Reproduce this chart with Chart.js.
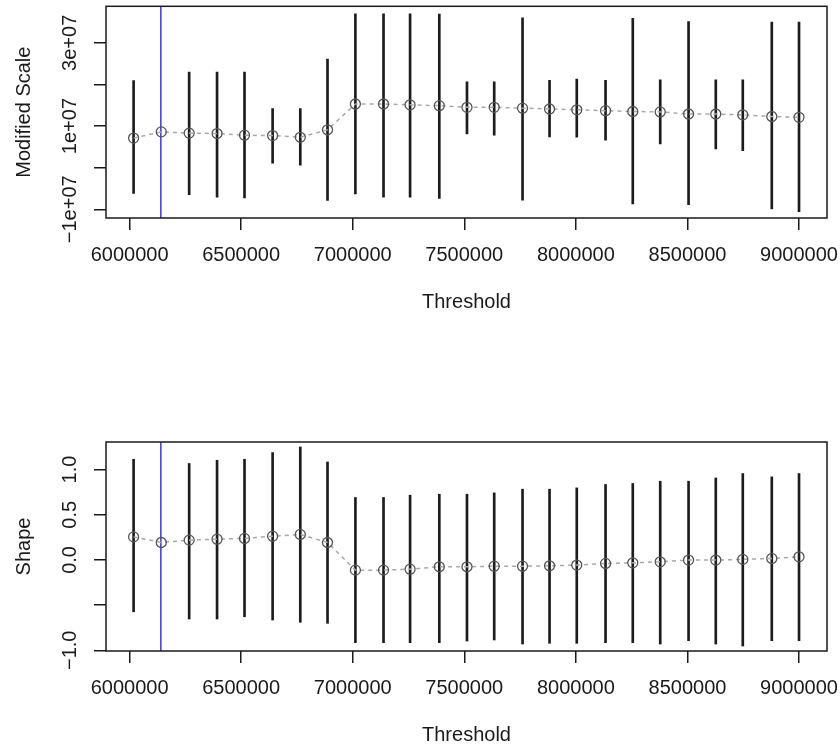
<!DOCTYPE html>
<html>
<head>
<meta charset="utf-8">
<script src="https://cdn.jsdelivr.net/npm/chart.js@4"></script>
<style>
  body { margin: 0; background: #fff; }
  canvas { position: absolute; left: 0; }
  #top { top: 0; }
  #bottom { top: 330px; }
</style>
</head>
<body>
<canvas id="top" width="840" height="330"></canvas>
<canvas id="bottom" width="840" height="421"></canvas>
<script>
// thresholds tried (x axis)
const thresholds = [6018000, 6142000, 6267000, 6392000, 6515000, 6641000, 6765000, 6887000,
  7012000, 7138000, 7257000, 7388000, 7512000, 7634000, 7761000, 7882000, 8004000, 8133000,
  8255000, 8378000, 8505000, 8627000, 8748000, 8878000, 9000000];
const selectedThreshold = 6140000; // blue line
const xTicks = [6000000, 6500000, 7000000, 7500000, 8000000, 8500000, 9000000];
const xRange = [5894300, 9125400];

// modified scale: estimate and interval
const scaleEst = [7.1e6, 8.6e6, 8.3e6, 8.2e6, 7.8e6, 7.7e6, 7.3e6, 9.1e6, 15.3e6, 15.3e6, 15.1e6,
  14.9e6, 14.5e6, 14.5e6, 14.3e6, 14.1e6, 13.9e6, 13.7e6, 13.5e6, 13.4e6, 12.9e6, 12.9e6, 12.7e6,
  12.3e6, 12.1e6];
const scaleLow = [-6.2e6, null, -6.5e6, -7.1e6, -7.3e6, 1.1e6, 0.6e6, -7.9e6, -6.3e6, -7.1e6, -7.1e6,
  -7.4e6, 8.1e6, 7.8e6, -7.8e6, 7.4e6, 7.3e6, 6.6e6, -8.7e6, 5.7e6, -8.9e6, 4.5e6, 4.1e6,
  -9.9e6, -10.6e6];
const scaleHigh = [20.9e6, null, 23.0e6, 23.0e6, 23.0e6, 14.2e6, 14.2e6, 26.1e6, 37.0e6, 37.0e6, 37.0e6,
  36.9e6, 20.6e6, 20.6e6, 36.0e6, 21.0e6, 21.3e6, 21.0e6, 35.9e6, 21.1e6, 35.1e6, 21.1e6, 21.1e6,
  35.0e6, 35.0e6];
const scaleTicks = [-1e7, 0, 1e7, 2e7, 3e7];
const scaleTickLabels = ['\u22121e+07', '', '1e+07', '', '3e+07'];
const scaleRange = [-1.21e7, 3.878e7];

// shape: estimate and interval
const shapeEst = [0.255, 0.193, 0.219, 0.23, 0.238, 0.263, 0.282, 0.193, -0.113, -0.113, -0.102,
  -0.076, -0.076, -0.069, -0.069, -0.065, -0.057, -0.039, -0.032, -0.021, -0.002, -0.002, 0.006,
  0.017, 0.034];
const shapeLow = [-0.574, null, -0.654, -0.654, -0.629, -0.665, -0.69, -0.702, -0.916, -0.916, -0.916,
  -0.916, -0.898, -0.886, -0.931, -0.923, -0.923, -0.916, -0.916, -0.931, -0.894, -0.931, -0.953,
  -0.894, -0.894];
const shapeHigh = [1.114, null, 1.067, 1.103, 1.114, 1.188, 1.25, 1.084, 0.691, 0.691, 0.716,
  0.727, 0.727, 0.742, 0.783, 0.783, 0.797, 0.835, 0.846, 0.871, 0.871, 0.907, 0.956,
  0.919, 0.956];
const shapeTicks = [-1, -0.5, 0, 0.5, 1];
const shapeTickLabels = ['\u22121.0', '', '0.0', '0.5', '1.0'];
const shapeRange = [-1.008, 1.305];

const FONT = '"Liberation Sans", Arial, Helvetica, sans-serif';
const INK = '#1a1a1a';
Chart.defaults.font.family = FONT;
Chart.defaults.font.size = 20;
Chart.defaults.color = INK;

// box round the plot region, like R's box()
const boxPlugin = {
  id: 'box',
  afterDatasetsDraw(chart) {
    const a = chart.chartArea, ctx = chart.ctx;
    ctx.save();
    ctx.strokeStyle = INK;
    ctx.lineWidth = 1.5;
    ctx.strokeRect(a.left, a.top, a.right - a.left, a.bottom - a.top);
    ctx.restore();
  }
};

// y tick labels turned 90 degrees, centred on the tick
const yLabelPlugin = {
  id: 'yLabels',
  afterDraw(chart, args, opts) {
    const ctx = chart.ctx, y = chart.scales.y;
    ctx.save();
    ctx.font = '20px ' + FONT;
    ctx.fillStyle = INK;
    ctx.textAlign = 'center';
    ctx.textBaseline = 'middle';
    opts.values.forEach((v, i) => {
      if (!opts.labels[i]) return;
      ctx.save();
      ctx.translate(opts.x, y.getPixelForValue(v));
      ctx.rotate(-Math.PI / 2);
      ctx.fillText(opts.labels[i], 0, 0);
      ctx.restore();
    });
    ctx.restore();
  }
};

function makePanel(id, est, low, high, yRange, yTicks, yLabels, yTitle, pad) {
  const bars = [];
  thresholds.forEach((t, i) => {
    if (low[i] !== null) bars.push({ x: t, y: [low[i], high[i]] });
  });
  const gridOpts = {
    drawOnChartArea: false, drawTicks: true, tickLength: 12, offset: false,
    color: INK, lineWidth: 1.5
  };
  return new Chart(document.getElementById(id), {
    type: 'line',
    data: {
      datasets: [
        {
          data: thresholds.map((t, i) => ({ x: t, y: est[i] })),
          borderColor: '#a8a8a8',
          borderWidth: 1.5,
          borderDash: [4, 4],
          pointRadius: 5,
          pointBorderColor: '#555',
          pointBorderWidth: 1.3,
          pointBackgroundColor: 'rgba(0,0,0,0)',
          fill: false
        },
        {
          data: [{ x: selectedThreshold, y: yRange[0] }, { x: selectedThreshold, y: yRange[1] }],
          borderColor: '#4a46d8',
          borderWidth: 1.6,
          pointRadius: 0
        },
        {
          type: 'bar',
          data: bars,
          backgroundColor: '#1c1c1c',
          barThickness: 2
        }
      ]
    },
    options: {
      responsive: false,
      animation: false,
      devicePixelRatio: 1,
      layout: { padding: pad },
      plugins: {
        legend: { display: false },
        tooltip: { enabled: false },
        yLabels: { values: yTicks, labels: yLabels, x: 70 }
      },
      scales: {
        x: {
          type: 'linear',
          min: xRange[0],
          max: xRange[1],
          offset: false,
          afterBuildTicks: s => { s.ticks = xTicks.map(v => ({ value: v })); },
          afterFit: s => { s.height = 96; s.paddingLeft = 0; s.paddingRight = 0; },
          ticks: { padding: 13, maxRotation: 0, autoSkip: false, color: INK, callback: v => String(v) },
          grid: gridOpts,
          border: { display: false },
          title: { display: true, text: 'Threshold', color: INK, font: { size: 20 }, padding: { top: 0, bottom: 0 } }
        },
        y: {
          type: 'linear',
          min: yRange[0],
          max: yRange[1],
          afterBuildTicks: s => { s.ticks = yTicks.map(v => ({ value: v })); },
          afterFit: s => { s.width = 106; s.paddingTop = 0; s.paddingBottom = 0; },
          ticks: { display: false },
          grid: gridOpts,
          border: { display: false },
          title: { display: true, text: yTitle, color: INK, font: { size: 20 }, padding: { top: 12, bottom: 0 } }
        }
      }
    },
    plugins: [boxPlugin, yLabelPlugin]
  });
}

makePanel('top', scaleEst, scaleLow, scaleHigh, scaleRange, scaleTicks, scaleTickLabels,
  'Modified Scale', { top: 6, right: 13, bottom: 16, left: 0 });
makePanel('bottom', shapeEst, shapeLow, shapeHigh, shapeRange, shapeTicks, shapeTickLabels,
  'Shape', { top: 112, right: 13, bottom: 4, left: 0 });
</script>
</body>
</html>
